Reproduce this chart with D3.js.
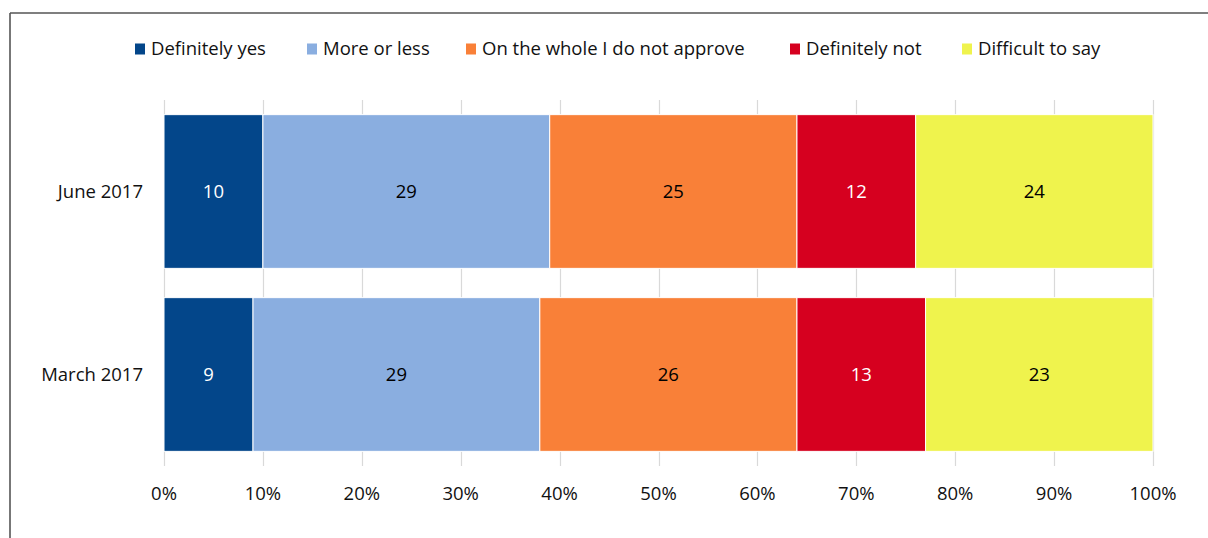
<!DOCTYPE html>
<html><head><meta charset="utf-8">
<script src="https://cdn.jsdelivr.net/npm/d3@7"></script>
<style>
html,body{margin:0;padding:0;background:#fff;}
svg{display:block;font-family:"Open Sans","Noto Sans",sans-serif;}
</style></head>
<body><svg id="c" width="1208" height="538"></svg>
<script>
const categories = ["June 2017", "March 2017"];
const seriesNames = ["Definitely yes", "More or less", "On the whole I do not approve", "Definitely not", "Difficult to say"];
const definitelyYes = [10, 9];
const moreOrLess = [29, 29];
const notApprove = [25, 26];
const definitelyNot = [12, 13];
const difficult = [24, 23];
const xTicks = [0, 10, 20, 30, 40, 50, 60, 70, 80, 90, 100];
const colors = ["#03468a", "#8aaee0", "#f98038", "#d6001f", "#eff34d"];
const labelColors = ["#fff", "#000", "#000", "#fff", "#000"];

const series = [definitelyYes, moreOrLess, notApprove, definitelyNot, difficult];
const svg = d3.select("#c");
const FS = 18.5;

// frame
svg.append("line").attr("x1", 10).attr("x2", 1208).attr("y1", 13).attr("y2", 13).attr("stroke", "#555").attr("stroke-width", 1.6);
svg.append("line").attr("x1", 10).attr("x2", 10).attr("y1", 13).attr("y2", 538).attr("stroke", "#555").attr("stroke-width", 1.6);

const x = d3.scaleLinear().domain([0, 100]).range([164, 1153]);
const y = d3.scaleBand().domain(categories).range([100, 466]).paddingInner(0.16).paddingOuter(0.08);

// gridlines
svg.append("g").selectAll("line").data(xTicks).join("line")
  .attr("x1", d => Math.round(x(d)) + 0.5).attr("x2", d => Math.round(x(d)) + 0.5)
  .attr("y1", 100).attr("y2", 466).attr("stroke", "#d9d9d9").attr("stroke-width", 1.2);

// axis labels
svg.append("g").selectAll("text").data(xTicks).join("text")
  .attr("x", d => x(d)).attr("y", 494).attr("dy", "0.35em").attr("text-anchor", "middle")
  .attr("font-size", FS).attr("fill", "#111").text(d => d + "%");

// stacked bars
const rows = categories.map((c, i) => {
  let acc = 0;
  return series.map((s, k) => { const x0 = acc; acc += s[i]; return {cat: c, k, x0, x1: acc, v: s[i]}; });
});
const g = svg.append("g");
rows.flat().forEach(d => {
  g.append("rect").attr("x", x(d.x0)).attr("width", x(d.x1) - x(d.x0))
    .attr("y", y(d.cat)).attr("height", y.bandwidth())
    .attr("fill", colors[d.k]).attr("stroke", "#fff").attr("stroke-width", 1);
  g.append("text").attr("x", (x(d.x0) + x(d.x1)) / 2).attr("y", y(d.cat) + y.bandwidth() / 2)
    .attr("dy", "0.35em").attr("text-anchor", "middle").attr("font-size", FS)
    .attr("fill", labelColors[d.k]).text(d.v);
});

// category labels
svg.append("g").selectAll("text").data(categories).join("text")
  .attr("x", 143).attr("y", d => y(d) + y.bandwidth() / 2).attr("dy", "0.35em")
  .attr("text-anchor", "end").attr("font-size", FS).attr("fill", "#111").text(d => d);

// legend
const legX = [135, 307, 466, 790, 962];
const lg = svg.append("g");
seriesNames.forEach((n, k) => {
  lg.append("rect").attr("x", legX[k]).attr("y", 43.5).attr("width", 10).attr("height", 11).attr("fill", colors[k]);
  lg.append("text").attr("x", legX[k] + 16).attr("y", 49).attr("dy", "0.35em")
    .attr("font-size", FS).attr("fill", "#111").text(n);
});
</script></body></html>
